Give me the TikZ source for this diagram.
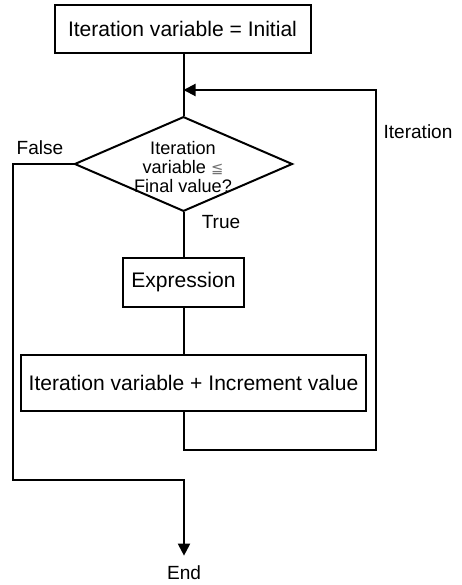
\documentclass[tikz,border=0pt]{standalone}
\usepackage{fontspec}
\setmainfont{Liberation Sans}
\newfontfamily\symfont{DejaVu Sans}
\usetikzlibrary{shapes.geometric,arrows.meta,calc}
\begin{document}
\begin{tikzpicture}[x=0.75pt,y=-0.75pt,
  line width=1.5pt,
  every node/.style={font=\fontsize{15.8}{19}\selectfont},
  box/.style={draw,rectangle,inner sep=0pt,line width=1.5pt},
  lbl/.style={inner sep=0pt,font=\fontsize{14.3}{17}\selectfont},
  arr/.style={-{Triangle[length=9pt,width=9pt]}}]
\useasboundingbox (0,0) rectangle (461,585);
\node[box,minimum width=192pt,minimum height=36pt] (init) at (182.5,29) {Iteration variable = Initial};
\node[draw,diamond,inner sep=0pt,minimum width=163.5pt,minimum height=71pt,line width=1.5pt] (dec) at (183.5,164) {};
\node[inner sep=0pt,align=center,font=\fontsize{13.6}{14.2}\selectfont] (dectext) at (183,167) {Iteration\\variable {\symfont\color{black!55}\fontsize{11}{12}\selectfont ≦}\\Final value?};
\node[box,minimum width=90.75pt,minimum height=36.75pt] (expr) at (183.5,282.5) {Expression};
\node[box,minimum width=258.75pt,minimum height=42pt] (inc) at (193.5,383) {Iteration variable + Increment value};
\node[lbl] (true) at (221,222) {True};
\node[lbl] (false) at (40,148) {False};
\node[lbl] (iter) at (418,132) {Iteration};
\node[lbl,anchor=north] (end) at (184,565) {End};
\coordinate (merge) at (183.5,90);
\coordinate (loopR) at (376,450);
\coordinate (fl) at (13,480);
\draw (init.south -| merge) -- (dec.north);
\draw (dec.south) -- (expr.north);
\draw (expr.south) -- (expr.south |- inc.north);
\draw[arr] (inc.south -| merge) |- (loopR) |- (merge);
\draw[arr,shorten >=7pt] (dec.west) -| (fl) -| (end.north);
\end{tikzpicture}
\end{document}
